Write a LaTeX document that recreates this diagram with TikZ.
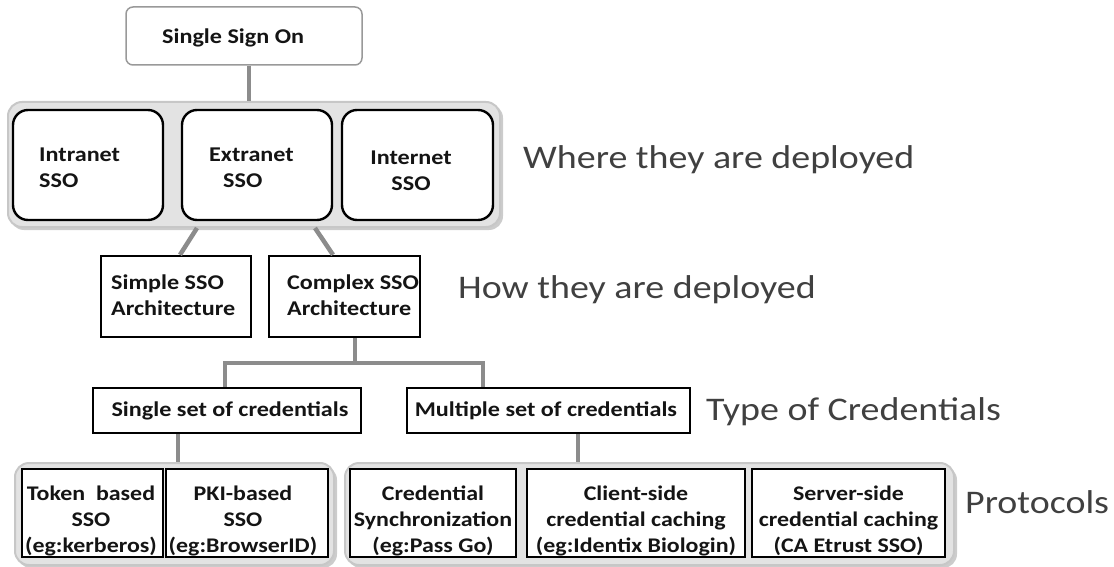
\documentclass[tikz,border=0pt]{standalone}
\usepackage{fontspec}
\setmainfont{Carlito}[FakeStretch=1.15]
\begin{document}
\begin{tikzpicture}[x=1pt,y=-1pt,
  conn/.style={draw=black!45, line width=4.5pt},
  grp/.style={draw=black!22, fill=black!11, line width=2pt, rounded corners=14pt, inner sep=0pt},
  grpshadow/.style={fill=black!20, rounded corners=14pt},
  topbox/.style={draw=black!40, fill=white, line width=1.5pt, rounded corners=7pt, inner sep=0pt},
  rbox/.style={draw=black, fill=white, line width=2.4pt, rounded corners=15pt, inner sep=0pt},
  sbox/.style={draw=black, fill=white, line width=2.4pt, inner sep=0pt},
  txt/.style={font=\bfseries\fontsize{21}{26}\selectfont, text=black!92, inner sep=0pt},
  small/.style={font=\bfseries\fontsize{20.8}{26}\selectfont, text=black!92, inner sep=0pt, align=center},
  lbl/.style={font=\fontsize{33}{38}\selectfont, text=black!75, inner sep=0pt, anchor=base west}]

\useasboundingbox (0,0) rectangle (1114,567);

% top box
\node[topbox, minimum width=236pt, minimum height=58pt] (sso) at (244,36) {};
\node[txt, anchor=base west] (ssot) at (162,44) {Single Sign On};

% where group
\fill[grpshadow] (10,104) rectangle (503,230);
\node[grp, minimum width=492pt, minimum height=125pt] (g1) at (254,164.5) {};
\node[rbox, minimum width=150pt, minimum height=110pt] (intra) at (88,165) {};
\node[rbox, minimum width=150pt, minimum height=110pt] (extra) at (257,165) {};
\node[rbox, minimum width=151pt, minimum height=110pt] (inter) at (417.5,165) {};
\node[txt, anchor=west, align=left] (intrat) at (39,168) {Intranet\\SSO};
\node[txt, anchor=west, align=left] (extrat) at (209,168) {Extranet\\\hspace*{14pt}SSO};
\node[txt, align=center] (intert) at (411,170.5) {Internet\\SSO};

\draw[conn] ([xshift=5pt]sso.south) -- ([xshift=5pt]sso.south |- g1.north);

% how deployed
\node[sbox, minimum width=150pt, minimum height=81pt] (simple) at (176,296.5) {};
\node[sbox, minimum width=151pt, minimum height=81pt] (complex) at (344.5,296.5) {};
\node[txt, anchor=west, align=left] (simplet) at (111,295) {Simple SSO\\Architecture};
\node[txt, anchor=west, align=left] (complext) at (287,295) {Complex SSO\\Architecture};

\draw[conn] ([xshift=-57pt]g1.south) -- ([xshift=4pt]simple.north);
\draw[conn] ([xshift=61pt]g1.south) -- ([xshift=-11.5pt]complex.north);

% credentials
\node[sbox, minimum width=268pt, minimum height=45pt] (single) at (227,410.5) {};
\node[sbox, minimum width=283pt, minimum height=45pt] (multi) at (548.5,410.5) {};
\node[txt] (singlet) at (230,410.5) {Single set of credentials};
\node[txt] (multit) at (546,410.5) {Multiple set of credentials};

\draw[conn] ([xshift=10.5pt]complex.south) -- ++(0,25) coordinate (j);
\draw[conn] ([xshift=-2pt]single.north) |- (j) -| ([xshift=-65.5pt]multi.north);

% protocol groups
\fill[grpshadow] (17,466) rectangle (337,568);
\fill[grpshadow] (347,466) rectangle (957,568);
\node[grp, minimum width=319pt, minimum height=102pt] (g2) at (174.5,514) {};
\node[grp, minimum width=609pt, minimum height=102pt] (g3) at (649.5,514) {};

\draw[conn] ([xshift=-49pt]single.south) -- ([xshift=-49pt]single.south |- g2.north);
\draw[conn] ([xshift=29.5pt]multi.south) -- ([xshift=29.5pt]multi.south |- g3.north);

\node[sbox, minimum width=141pt, minimum height=88pt] (token) at (92.5,513) {};
\node[sbox, minimum width=162pt, minimum height=88pt] (pki) at (247,513) {};
\node[sbox, minimum width=166pt, minimum height=88pt] (cred) at (433,513) {};
\node[sbox, minimum width=218pt, minimum height=88pt] (client) at (636,513) {};
\node[sbox, minimum width=193pt, minimum height=88pt] (server) at (848.5,513) {};

\node[small] (tokent) at (91,521) {Token\ \ based\\SSO\\(eg:kerberos)};
\node[small] (pkit) at (243,521) {PKI-based\\SSO\\(eg:BrowserID)};
\node[small] (credt) at (433,521) {Credential\\Synchronization\\(eg:Pass Go)};
\node[small] (clientt) at (636,521) {Client-side\\credential caching\\(eg:Identix Biologin)};
\node[small] (servert) at (848.5,521) {Server-side\\credential caching\\(CA Etrust SSO)};

% right labels
\node[lbl] (l1) at (523,168) {Where they are deployed};
\node[lbl] (l2) at (458,298) {How they are deployed};
\node[lbl] (l3) at (706,420) {Type of Credentials};
\node[lbl] (l4) at (965,513) {Protocols};
\end{tikzpicture}
\end{document}
